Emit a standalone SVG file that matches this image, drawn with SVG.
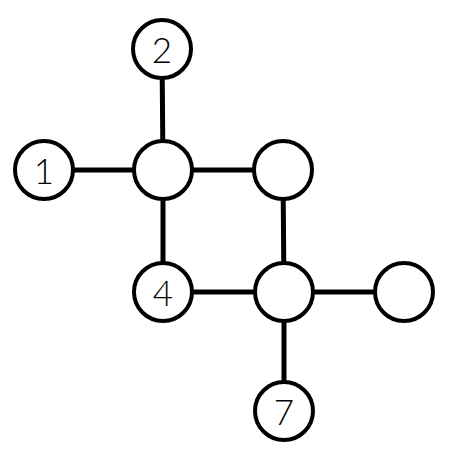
<svg xmlns="http://www.w3.org/2000/svg" width="450" height="459" viewBox="0 0 450 459">
<style>
.n{fill:#fff;stroke:#000;stroke-width:4}
.e{stroke:#000;stroke-width:5}
.t{font-family:"Lato","DejaVu Sans",sans-serif;font-weight:300;font-size:35px;text-anchor:middle;dominant-baseline:central;fill:#000}
</style>
<rect width="450" height="459" fill="#fff"/>
<g id="edges">
<line class="e" x1="162" y1="49" x2="163" y2="170"/>
<line class="e" x1="44" y1="170" x2="163" y2="170"/>
<line class="e" x1="163" y1="170" x2="283" y2="170"/>
<line class="e" x1="163" y1="170" x2="163" y2="292"/>
<line class="e" x1="283" y1="170" x2="284" y2="292"/>
<line class="e" x1="163" y1="292" x2="284" y2="292"/>
<line class="e" x1="284" y1="292" x2="404" y2="292"/>
<line class="e" x1="284" y1="292" x2="284" y2="411"/>
</g>
<g id="n2"><circle class="n" cx="162" cy="49" r="29"/><text class="t" x="162" y="49">2</text></g>
<g id="n1"><circle class="n" cx="44" cy="170" r="29"/><text class="t" x="44" y="170">1</text></g>
<g id="n3"><circle class="n" cx="163" cy="170" r="29"/></g>
<g id="n5"><circle class="n" cx="283" cy="170" r="29"/></g>
<g id="n4"><circle class="n" cx="163" cy="292" r="29"/><text class="t" x="163" y="292">4</text></g>
<g id="n6"><circle class="n" cx="284" cy="292" r="29"/></g>
<g id="n8"><circle class="n" cx="404" cy="292" r="29"/></g>
<g id="n7"><circle class="n" cx="284" cy="411" r="29"/><text class="t" x="284" y="411">7</text></g>
</svg>
